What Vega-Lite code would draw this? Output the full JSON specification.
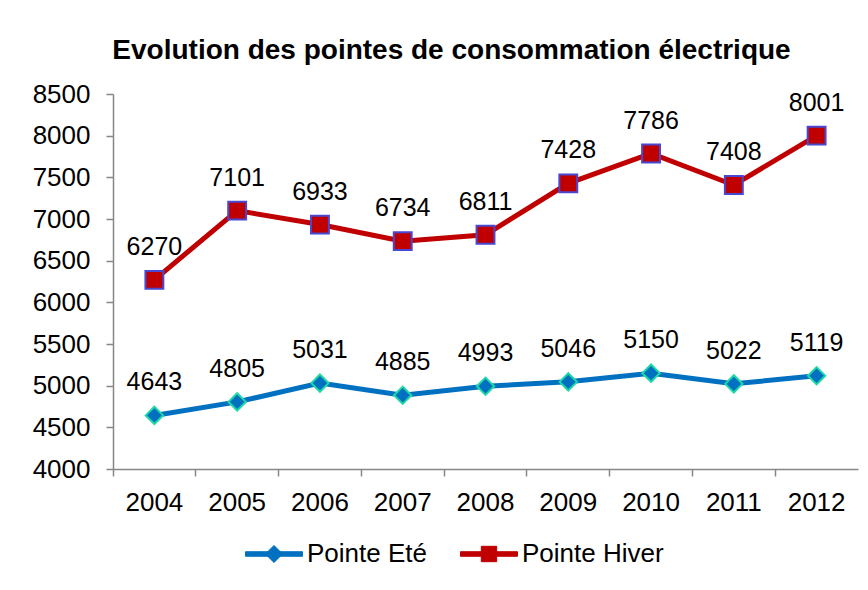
{
  "$schema": "https://vega.github.io/schema/vega-lite/v6.json",
  "width": 745,
  "height": 375,
  "autosize": {"type": "none"},
  "padding": {"left": 113, "top": 94, "right": 10, "bottom": 121},
  "background": "white",
  "config": {"view": {"stroke": null}, "font": "Liberation Sans"},
  "title": {
    "text": "Evolution des pointes de consommation électrique",
    "fontSize": 28,
    "fontWeight": "bold",
    "font": "Liberation Sans",
    "color": "black",
    "anchor": "middle",
    "frame": "group",
    "baseline": "alphabetic",
    "offset": 40,
    "dy": 46,
    "dx": -34
  },
  "data": {
    "values": [
      {"year": "2004", "serie": "Pointe Eté", "value": 4643},
      {"year": "2005", "serie": "Pointe Eté", "value": 4805},
      {"year": "2006", "serie": "Pointe Eté", "value": 5031},
      {"year": "2007", "serie": "Pointe Eté", "value": 4885},
      {"year": "2008", "serie": "Pointe Eté", "value": 4993},
      {"year": "2009", "serie": "Pointe Eté", "value": 5046},
      {"year": "2010", "serie": "Pointe Eté", "value": 5150},
      {"year": "2011", "serie": "Pointe Eté", "value": 5022},
      {"year": "2012", "serie": "Pointe Eté", "value": 5119},
      {"year": "2004", "serie": "Pointe Hiver", "value": 6270},
      {"year": "2005", "serie": "Pointe Hiver", "value": 7101},
      {"year": "2006", "serie": "Pointe Hiver", "value": 6933},
      {"year": "2007", "serie": "Pointe Hiver", "value": 6734},
      {"year": "2008", "serie": "Pointe Hiver", "value": 6811},
      {"year": "2009", "serie": "Pointe Hiver", "value": 7428},
      {"year": "2010", "serie": "Pointe Hiver", "value": 7786},
      {"year": "2011", "serie": "Pointe Hiver", "value": 7408},
      {"year": "2012", "serie": "Pointe Hiver", "value": 8001}
    ]
  },
  "encoding": {
    "x": {
      "field": "year",
      "type": "nominal",
      "scale": {"type": "band", "paddingInner": 0, "paddingOuter": 0},
      "axis": {
        "title": null,
        "labelAngle": 0,
        "labelFontSize": 26,
        "labelColor": "black",
        "labelBaseline": "alphabetic",
        "labelPadding": 34,
        "tickSize": 7,
        "tickColor": "#868686",
        "domainColor": "#868686",
        "domainWidth": 1.5,
        "tickWidth": 1.5,
        "bandPosition": 0,
        "grid": false
      }
    },
    "y": {
      "field": "value",
      "type": "quantitative",
      "scale": {"domain": [4000, 8500], "nice": false, "zero": false},
      "axis": {
        "title": null,
        "format": "d",
        "values": [4000, 4500, 5000, 5500, 6000, 6500, 7000, 7500, 8000, 8500],
        "labelFontSize": 26,
        "labelColor": "black",
        "labelPadding": 16,
        "tickSize": 7,
        "tickColor": "#868686",
        "domainColor": "#868686",
        "domainWidth": 1.5,
        "tickWidth": 1.5,
        "grid": false
      }
    }
  },
  "layer": [
    {
      "mark": {"type": "line", "strokeWidth": 5},
      "encoding": {
        "color": {
          "field": "serie",
          "type": "nominal",
          "scale": {"domain": ["Pointe Eté", "Pointe Hiver"], "range": ["#0070C0", "#C00000"]},
          "legend": {
            "title": null,
            "orient": "none",
            "direction": "horizontal",
            "legendX": 132,
            "legendY": 431,
            "padding": 0,
            "symbolSize": 3249,
            "symbolStrokeWidth": 1,
            "labelFontSize": 26,
            "labelColor": "black",
            "labelOffset": 4,
            "columnPadding": 31,
            "encode": {
              "symbols": {
                "update": {
                  "fill": {"signal": "scale('color', datum.value)"},
                  "stroke": {"signal": "scale('color', datum.value)"},
                  "shape": {"signal": "datum.value === 'Pointe Eté' ? 'M-1,-0.08H1V0.08H-1Z M0,-0.3L0.3,0L0,0.3L-0.3,0Z' : 'M-1,-0.08H1V0.08H-1Z M-0.27,-0.27H0.27V0.27H-0.27Z'"}
                }
              }
            }
          }
        }
      }
    },
    {
      "transform": [{"filter": "datum.serie === 'Pointe Eté'"}],
      "mark": {"type": "point", "shape": "diamond", "size": 300, "filled": true, "opacity": 1, "fill": "#0070C0", "stroke": "#1ED8A8", "strokeWidth": 2}
    },
    {
      "transform": [{"filter": "datum.serie === 'Pointe Hiver'"}],
      "mark": {"type": "point", "shape": "square", "size": 320, "filled": true, "opacity": 1, "fill": "#C00000", "stroke": "#4848D0", "strokeWidth": 2}
    },
    {
      "mark": {"type": "text", "fontSize": 25, "dy": -25, "baseline": "alphabetic", "color": "black"},
      "encoding": {
        "text": {"field": "value", "type": "quantitative", "format": "d"}
      }
    }
  ]
}
